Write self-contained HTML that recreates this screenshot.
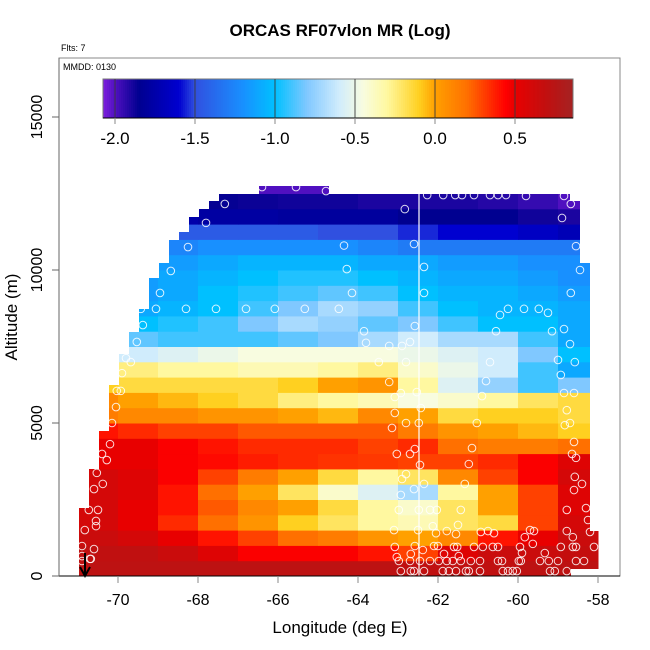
<!DOCTYPE html>
<html><head><meta charset="utf-8"><style>
html,body{margin:0;padding:0;background:#fff;}
svg{display:block;font-family:"Liberation Sans",sans-serif;}
</style></head><body>
<svg id="chart" width="650" height="650" viewBox="0 0 650 650">
<defs><clipPath id="dataClip"><polygon points="79,576 79,508 89,508 89,469 99,469 99,431 109,431 109,385 119,385 119,354 129,354 129,332 139,332 139,309 149,309 149,278 159,278 159,263 169,263 169,240 179,240 179,232 189,232 189,217 199,217 199,209 209,209 209,201 219,201 219,194 259,194 259,186 329,186 329,194 570,194 570,201 580,201 580,263 590,263 590,531 600,531 600,569 571,569 571,576"/></clipPath></defs>
<text x="340" y="36" text-anchor="middle" font-size="17" font-weight="bold">ORCAS RF07vlon MR (Log)</text>
<text x="61" y="51" font-size="9">Flts: 7</text>
<rect x="59" y="58" width="561" height="518" fill="none" stroke="#888" stroke-width="1"/>
<text x="63" y="70" font-size="9">MMDD: 0130</text>
<g id="heat" clip-path="url(#dataClip)"></g>
<line x1="419" y1="194" x2="419" y2="576" stroke="#fff" stroke-width="1.2"/>
<g id="pts"></g>
<g><line x1="85" y1="553" x2="85" y2="575" stroke="#000" stroke-width="2"/><polyline points="80,567 85,576 90,567" fill="none" stroke="#000" stroke-width="2"/></g>
<g id="cbar"></g>
<line x1="59" y1="576" x2="620" y2="576" stroke="#000" stroke-width="1"/>
<g id="xaxis"></g>
<g id="yaxis"></g>
<text x="340" y="633" text-anchor="middle" font-size="17">Longitude (deg E)</text>
<text transform="translate(17,317) rotate(-90)" text-anchor="middle" font-size="17">Altitude (m)</text>
</svg>
<script>
const lonBins = [-71,-70,-69,-68,-67,-66,-65,-64,-63,-62,-61,-60,-59];
const altBins = [0,500,1000,1500,2000,2500,3000,3500,4000,4500,5000,5500,6000,6500,7000,7500,8000,8500,9000,9500,10000,10500,11000,11500,12000,12500];
const gridValues = [
[0.72,0.72,0.72,0.72,0.72,0.72,0.72,0.72,0.7,0.7,0.7,0.72,0.72],
[0.7,0.7,0.65,0.55,0.45,0.45,0.45,0.4,0.3,0.55,0.65,0.65,0.68],
[0.65,0.6,0.5,0.4,0.3,0.2,0.15,0.05,0.0,0.1,0.4,0.5,0.65],
[0.6,0.5,0.35,0.2,0.05,-0.1,-0.2,-0.3,-0.35,-0.2,-0.15,0.3,0.6],
[0.6,0.5,0.4,0.25,0.1,0.0,-0.15,-0.3,-0.4,-0.2,0.0,0.3,0.55],
[0.6,0.55,0.4,0.2,0.0,-0.2,-0.4,-0.55,-0.7,-0.3,0.0,0.3,0.55],
[0.6,0.55,0.45,0.3,0.15,0.0,-0.15,-0.3,-0.2,0.1,0.3,0.45,0.6],
[0.5,0.5,0.45,0.42,0.38,0.35,0.33,0.32,0.3,0.3,0.35,0.45,0.55],
[0.5,0.5,0.45,0.4,0.35,0.35,0.35,0.3,0.35,0.2,0.15,0.15,0.2],
[0.4,0.35,0.3,0.3,0.25,0.25,0.25,0.25,0.15,0.05,0.0,-0.05,-0.1],
[0.15,0.1,0.1,0.05,0.05,0.0,-0.05,0.1,0.0,-0.15,-0.1,-0.1,-0.15],
[0.1,0.0,-0.05,-0.1,-0.15,-0.25,-0.3,-0.35,-0.45,-0.4,-0.3,-0.2,-0.15],
[-0.1,-0.15,-0.15,-0.15,-0.15,-0.1,0.0,0.05,-0.3,-0.55,-0.75,-0.9,-0.8],
[-0.2,-0.25,-0.3,-0.3,-0.35,-0.35,-0.3,-0.25,-0.4,-0.5,-0.6,-0.9,-1.1],
[-0.6,-0.6,-0.55,-0.5,-0.45,-0.45,-0.45,-0.45,-0.5,-0.55,-0.6,-0.8,-1.0],
[-0.85,-0.85,-0.9,-0.9,-0.9,-0.85,-0.8,-0.7,-0.6,-0.7,-0.7,-0.9,-1.1],
[-1.1,-1.0,-0.95,-0.9,-0.8,-0.7,-0.75,-0.85,-0.8,-0.9,-1.0,-1.0,-1.1],
[-1.1,-1.1,-1.05,-1.0,-0.9,-0.8,-0.7,-0.75,-0.9,-1.0,-1.05,-1.05,-1.1],
[-1.15,-1.15,-1.1,-1.0,-0.95,-0.9,-0.85,-0.9,-1.0,-1.05,-1.05,-1.1,-1.15],
[-1.15,-1.15,-1.1,-1.05,-1.0,-0.95,-0.95,-1.0,-1.05,-1.1,-1.1,-1.15,-1.2],
[-1.2,-1.2,-1.15,-1.1,-1.05,-1.05,-1.05,-1.1,-1.1,-1.15,-1.15,-1.2,-1.2],
[-1.25,-1.25,-1.25,-1.2,-1.2,-1.2,-1.2,-1.25,-1.3,-1.3,-1.3,-1.3,-1.3],
[-1.45,-1.45,-1.45,-1.45,-1.45,-1.45,-1.5,-1.5,-1.55,-1.6,-1.6,-1.65,-1.7],
[-1.75,-1.75,-1.75,-1.78,-1.78,-1.8,-1.8,-1.8,-1.85,-1.85,-1.85,-1.88,-1.9],
[-1.85,-1.85,-1.85,-1.86,-1.87,-1.88,-1.88,-1.9,-1.9,-1.9,-1.92,-1.95,-2.0],
[-2.0,-2.0,-2.0,-2.0,-2.0,-2.0,-2.0,-2.0,-2.0,-2.0,-2.0,-2.0,-2.0]
];
const pointLons = [-66.4,-65.55,-64.8,-62.27,-61.87,-61.57,-61.4,-61.1,-60.7,-60.5,-60.3,-59.8,-58.85,-67.33,-58.68,-62.83,-58.9,-67.8,-68.25,-64.35,-62.6,-58.55,-68.68,-64.28,-62.35,-58.45,-68.95,-64.15,-62.35,-58.68,-69.43,-69.05,-68.3,-67.55,-66.8,-66.08,-65.33,-64.48,-60.25,-59.85,-59.48,-59.25,-60.45,-69.38,-62.58,-63.85,-60.55,-58.85,-59.15,-69.53,-63.8,-63.22,-62.9,-62.7,-58.7,-69.8,-69.68,-63.48,-62.8,-60.7,-59.0,-58.58,-69.9,-58.93,-63.22,-60.8,-70.03,-69.93,-62.93,-62.53,-63.08,-60.9,-58.85,-58.6,-70.05,-62.43,-63.08,-58.78,-70.15,-62.8,-62.48,-61.03,-58.7,-63.15,-58.83,-70.2,-58.6,-63.03,-62.7,-62.58,-61.15,-58.65,-58.55,-70.4,-70.28,-62.45,-61.23,-70.53,-58.58,-62.9,-62.8,-70.38,-70.6,-62.35,-61.33,-58.4,-62.6,-62.93,-58.6,-70.73,-70.5,-62.98,-62.48,-62.2,-62.03,-61.43,-58.78,-58.3,-70.55,-70.55,-70.83,-58.25,-62.13,-61.5,-63.1,-62.5,-62.05,-61.78,-61.55,-60.93,-60.75,-60.6,-59.7,-59.6,-59.83,-58.78,-58.63,-58.2,-70.9,-70.6,-63.08,-62.58,-62.38,-62.1,-62.0,-61.6,-61.52,-61.1,-60.88,-60.63,-60.5,-59.95,-59.63,-59.33,-59.9,-58.93,-58.63,-58.55,-58.1,-70.9,-70.68,-63.03,-62.68,-61.85,-61.48,-62.98,-62.7,-62.45,-62.2,-61.98,-61.78,-61.63,-61.43,-61.18,-60.95,-60.5,-60.4,-59.98,-59.93,-59.45,-59.23,-59.0,-58.55,-58.35,-70.9,-70.7,-62.93,-62.68,-62.6,-62.35,-61.88,-61.73,-61.55,-61.3,-61.23,-60.95,-60.38,-60.25,-60.13,-60.03,-59.2,-59.08,-58.78];
const pointAlts = [12710,12710,12580,12450,12450,12450,12450,12450,12450,12450,12450,12420,12420,12160,12160,11990,11700,11540,10750,10800,10850,10780,9970,10030,10100,10000,9250,9250,9250,9250,8730,8730,8730,8730,8730,8730,8730,8730,8730,8730,8730,8600,8530,8200,8170,8000,8000,8070,8000,7650,7620,7520,7520,7650,7580,7120,6990,6990,6990,6990,7060,6990,6630,6570,6340,6370,6050,6050,5980,6010,5850,5880,5980,5980,5520,5490,5330,5420,5000,5000,5000,5000,5000,4840,4930,4310,4380,3990,3990,4150,4180,3990,3860,3990,3790,3630,3660,3370,3240,3170,3330,3010,2840,3010,3010,3010,2840,2650,2810,2160,2160,2160,2160,2160,2160,2160,2160,2220,1800,1630,1500,1830,1630,1670,1500,1500,1400,1470,1370,1440,1470,1400,1500,1470,1270,1470,1270,1440,980,880,950,980,850,980,980,950,950,950,950,950,950,950,1050,750,750,950,950,950,950,650,560,620,720,720,650,490,490,490,490,490,490,490,490,490,490,490,490,490,490,490,490,490,490,490,490,560,160,160,160,160,160,160,160,160,160,160,160,160,160,160,160,160,160];
const cbarTicks = [-2.0,-1.5,-1.0,-0.5,0.0,0.5];
const xTicks = [-70,-68,-66,-64,-62,-60,-58];
const yTicks = [0,5000,10000,15000];

const NS='http://www.w3.org/2000/svg';
const xS = lon => 118 + (lon + 70) * 40;
const yS = alt => 576 - alt * 0.0306;
const cS = v => 115 + (v + 2.0) * 160;
const stops = [[-2.08,[128,32,224]],[-2.0,[80,16,192]],[-1.85,[0,0,144]],[-1.6,[0,0,208]],[-1.5,[48,80,224]],[-1.2,[24,144,255]],[-1.0,[0,192,255]],[-0.8,[128,200,255]],[-0.6,[208,236,252]],[-0.45,[248,252,224]],[-0.3,[255,248,160]],[-0.1,[255,208,32]],[0.0,[255,160,0]],[0.2,[255,112,0]],[0.44,[255,0,0]],[0.5,[232,0,0]],[0.7,[192,16,16]],[0.84,[168,32,32]]];
function cmap(v){
  if(v<=stops[0][0]) return 'rgb('+stops[0][1]+')';
  for(let i=1;i<stops.length;i++){
    if(v<=stops[i][0]){const a=stops[i-1],b=stops[i],t=(v-a[0])/(b[0]-a[0]);
      return 'rgb('+a[1].map((c,k)=>Math.round(c+(b[1][k]-c)*t)).join(',')+')';}
  }
  return 'rgb('+stops[stops.length-1][1]+')';
}
function mk(tag,attrs,parent){const e=document.createElementNS(NS,tag);for(const k in attrs)e.setAttribute(k,attrs[k]);parent.appendChild(e);return e;}

const heat=document.getElementById('heat');
gridValues.forEach((row,r)=>{row.forEach((v,c)=>{
  const x0=xS(lonBins[c]),x1=xS(lonBins[c]+1),y1=yS(altBins[r]),y0=yS(altBins[r]+500);
  const e=mk('rect',{x:x0,y:y0,width:x1-x0+0.5,height:y1-y0+0.5,fill:cmap(v)},heat);
  
  
});});

const pts=document.getElementById('pts');
pointLons.forEach((lon,i)=>{
  const e=mk('circle',{cx:xS(lon),cy:yS(pointAlts[i]),r:3.8,fill:'none',stroke:'rgba(255,255,255,0.85)','stroke-width':1},pts);
  
  
});

const cb=document.getElementById('cbar');
for(let px=103;px<573;px+=2){
  const v=(px+1-115)/160-2.0;
  const e=mk('rect',{x:px,y:79,width:2.4,height:39,fill:cmap(v)},cb);
  
  
}
mk('rect',{x:103,y:79,width:470,height:39,fill:'none',stroke:'#777','stroke-width':1},cb);
mk('line',{x1:103,y1:118,x2:573,y2:118,stroke:'#000','stroke-width':1},cb);
cbarTicks.forEach(t=>{
  const x=cS(t);
  mk('line',{x1:x,y1:79,x2:x,y2:118,stroke:'rgba(60,60,60,0.7)','stroke-width':1.3},cb);
  mk('line',{x1:x,y1:118,x2:x,y2:124,stroke:'#888','stroke-width':1},cb);
  const e=mk('text',{x:x,y:144,'text-anchor':'middle','font-size':17},cb);
  e.textContent=t.toFixed(1);
  
  
});

const xa=document.getElementById('xaxis');
xTicks.forEach(t=>{
  const x=xS(t);
  mk('line',{x1:x,y1:576,x2:x,y2:583,stroke:'#888','stroke-width':1},xa);
  const e=mk('text',{x:x,y:605,'text-anchor':'middle','font-size':16},xa);
  e.textContent=String(t);
  
  
});
const ya=document.getElementById('yaxis');
mk('line',{x1:59,y1:58,x2:59,y2:576,stroke:'#666','stroke-width':1},ya);
yTicks.forEach(t=>{
  const y=yS(t);
  mk('line',{x1:52,y1:y,x2:59,y2:y,stroke:'#666','stroke-width':1},ya);
  const e=mk('text',{'text-anchor':'middle','font-size':16,transform:'translate(42,'+y+') rotate(-90)'},ya);
  e.textContent=String(t);
  
  
});
</script>
</body></html>
